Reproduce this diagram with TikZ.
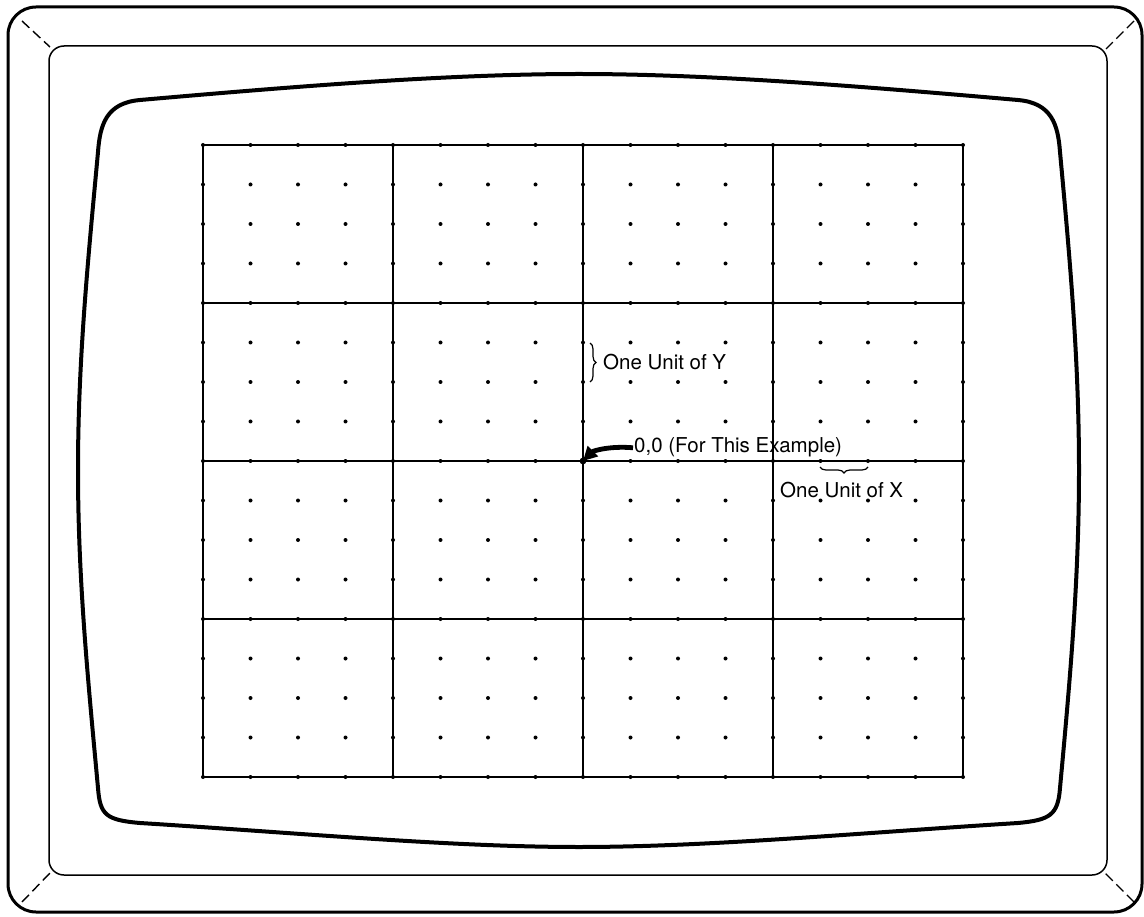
\documentclass[tikz,border=0pt]{standalone}
\usepackage{fontspec}
\setmainfont{TeX Gyre Heros}
\usetikzlibrary{arrows.meta, decorations.pathreplacing}

\begin{document}
\begin{tikzpicture}[x=1pt, y=-1pt,
    frame/.style={line width=3pt, rounded corners=28pt},
    bezel/.style={line width=1.5pt, rounded corners=15pt},
    bevel/.style={line width=1.4pt, dash pattern=on 10pt off 5pt},
    tube/.style={line width=4pt, line join=round},
    gridline/.style={line width=1.1pt},
    brace/.style={decorate, decoration={brace, amplitude=6pt}, line width=1.2pt},
    fatarrow/.style={line width=4.8pt, -{Triangle[length=14pt, width=14pt]}},
    lbl/.style={inner sep=0pt, anchor=base west, font=\fontsize{20.5}{24}\selectfont}]

\useasboundingbox (0,0) rectangle (1144,917);

%cabinet
\draw[frame] (8,7) rectangle (1142,912);
\draw[bezel] (49,46) rectangle (1107,875);

\draw[bevel] (22,21) -- (50,47);
\draw[bevel] (1134,21) -- (1106,49);
\draw[bevel] (22,902) -- (50,873);
\draw[bevel] (1134,902) -- (1105,873);

%screen
\draw[tube] (140,100) .. controls (300,86) and (450,74) .. (579,74)
  .. controls (708,74) and (858,86) .. (1018,100)
  .. controls (1052,103) and (1058,125) .. (1060,152)
  .. controls (1070,260) and (1079,360) .. (1079,470)
  .. controls (1079,580) and (1070,680) .. (1060,788)
  .. controls (1058,815) and (1050,820) .. (1018,823)
  .. controls (858,833) and (708,847) .. (579,847)
  .. controls (450,847) and (300,833) .. (140,823)
  .. controls (106,820) and (100,815) .. (98,788)
  .. controls (88,680) and (78,580) .. (78,470)
  .. controls (78,360) and (88,260) .. (98,152)
  .. controls (100,125) and (106,103) .. (140,100) -- cycle;

%grid
\foreach \k in {0,...,4}
{
\draw[gridline] ({203+190*\k}, 145) -- ({203+190*\k}, 777);
\draw[gridline] (203, {145+158*\k}) -- (963, {145+158*\k});
};

\foreach \i in {0,...,16}
{
\foreach \j in {0,...,16}
{
\fill ({203+47.5*\i}, {145+39.5*\j}) circle (2pt);
};
};

\coordinate (origin) at (583,461);
\fill (origin) circle (3.4pt);

%labels
\node[lbl] (lblY) at (603,370) {One Unit of Y};
\node[lbl] (lblO) at (634,453) {0,0 (For This Example)};
\node[lbl] (lblX) at (780,497) {One Unit of X};

\draw[brace] (590,343) -- (590,382);
\draw[brace] (868,467) -- (820,467);

\draw[fatarrow] ([xshift=-1pt]lblO.west) .. controls +(-24,-2) and +(10,-10) .. (origin);

\end{tikzpicture}
\end{document}
